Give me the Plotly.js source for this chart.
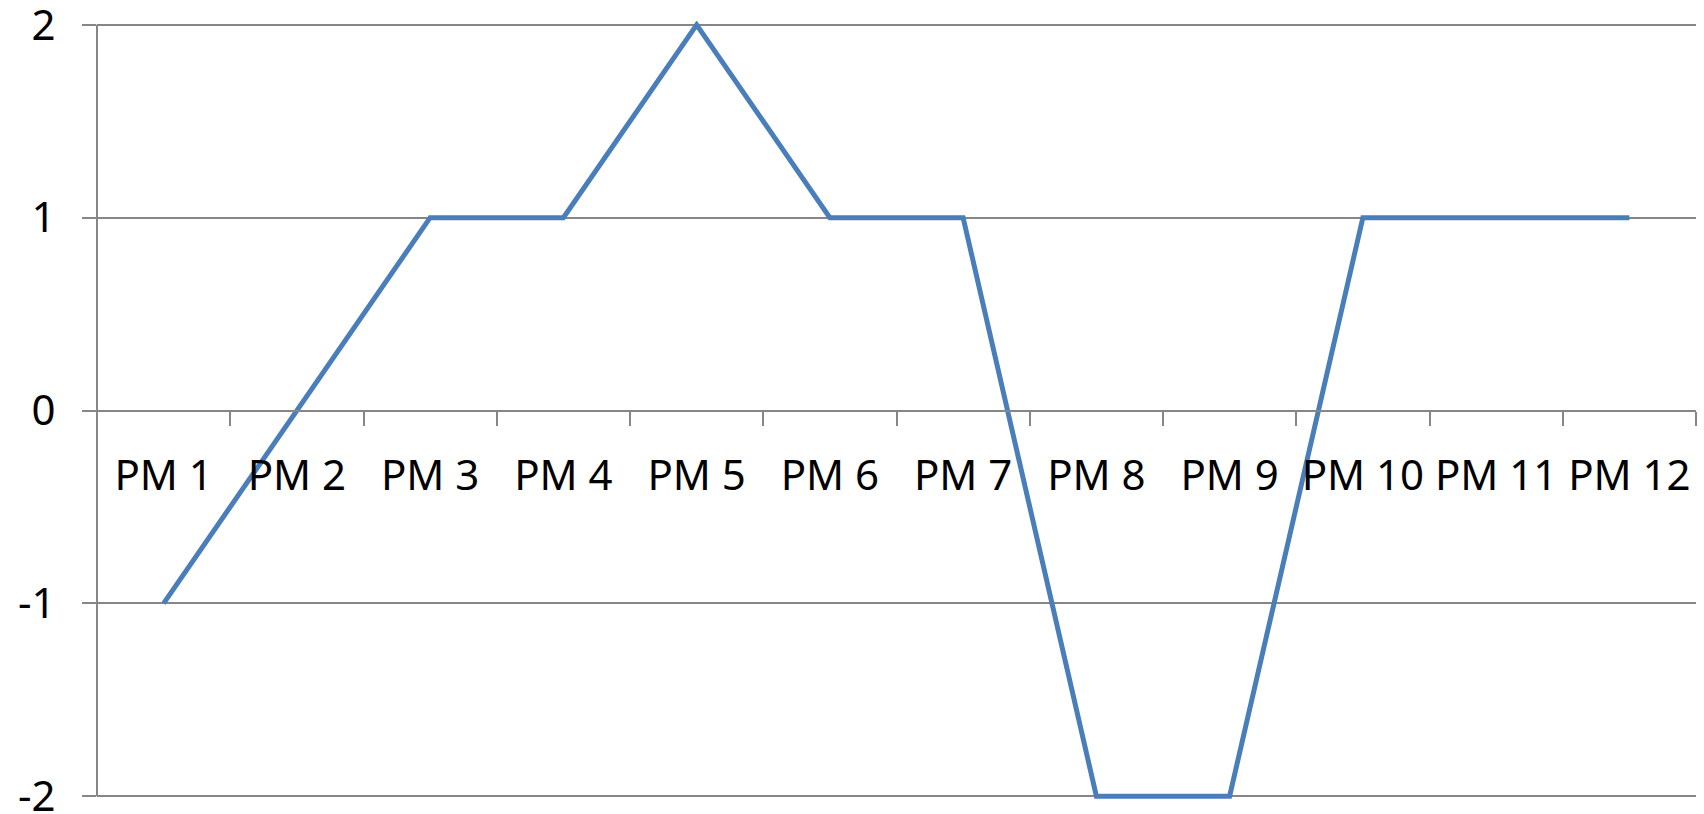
<!DOCTYPE html>
<html>
<head>
<meta charset="utf-8">
<script src="https://cdn.plot.ly/plotly-3.0.1.min.js"></script>
<style>html,body{margin:0;padding:0;background:#fff;}#chart{width:1704px;height:814px;}</style>
</head>
<body>
<div id="chart"></div>
<script>
const categories = ["PM 1","PM 2","PM 3","PM 4","PM 5","PM 6","PM 7","PM 8","PM 9","PM 10","PM 11","PM 12"];
const values = [-1, 0, 1, 1, 2, 1, 1, -2, -2, 1, 1, 1];
const yTickVals = [-2, -1, 0, 1, 2];
const yTickText = ["-2", "-1", "0", "1", "2"];

const W = 1704, H = 814;
const mL = 97, mR = 8, mT = 21, mB = 14;
const zeroPos = 0.5; // y=0 sits in middle of symmetric y range

const trace = {
  x: categories, y: values, type: 'scatter', mode: 'lines',
  line: {color: '#4a7ebb', width: 5},
  cliponaxis: false,
  hoverinfo: 'skip'
};

const gridColor = '#868686';
const font = {family: '"Noto Sans", sans-serif', size: 42, color: '#000'};

const layout = {
  width: W, height: H,
  margin: {l: mL, r: mR, t: mT, b: mB, pad: 0},
  paper_bgcolor: '#fff', plot_bgcolor: '#fff',
  showlegend: false,
  font: font,
  xaxis: {
    type: 'category',
    range: [-0.5, 11.5],
    anchor: 'free', position: zeroPos,
    showline: true, linecolor: gridColor, linewidth: 2,
    showgrid: false, zeroline: false,
    ticks: 'outside', ticklen: 14, tickwidth: 2, tickcolor: gridColor,
    tickson: 'boundaries',
    ticklabelstandoff: 28,
    ticklabeloverflow: 'allow',
    tickfont: font,
    fixedrange: true
  },
  yaxis: {
    range: [-2.02, 2.02],
    tickvals: yTickVals, ticktext: yTickText,
    showline: false,
    showgrid: true, gridcolor: gridColor, gridwidth: 2,
    zeroline: false,
    ticks: 'outside', ticklen: 14, tickwidth: 2, tickcolor: gridColor,
    ticklabelstandoff: 18,
    ticklabeloverflow: 'allow',
    tickfont: font,
    fixedrange: true
  },
  shapes: [{
    type: 'line', xref: 'paper', yref: 'y',
    x0: 0, x1: 0, y0: yTickVals[0], y1: yTickVals[yTickVals.length - 1],
    line: {color: gridColor, width: 2}, layer: 'below'
  }]
};

Plotly.newPlot('chart', [trace], layout, {displayModeBar: false, staticPlot: true});
</script>
</body>
</html>
